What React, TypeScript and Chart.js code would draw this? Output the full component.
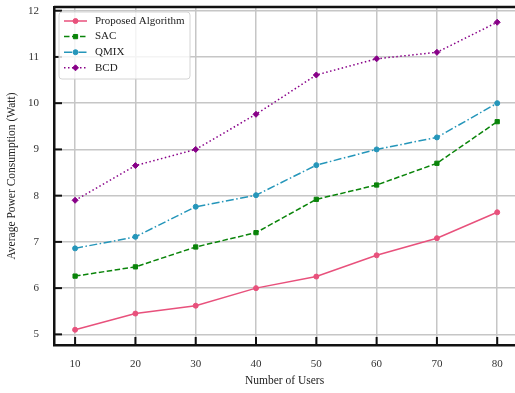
import React, { useEffect, useRef } from "react";
import { Chart, registerables } from "chart.js";

Chart.register(...registerables);

const users = [10, 20, 30, 40, 50, 60, 70, 80];
const proposed = [5.1, 5.45, 5.62, 6.0, 6.25, 6.71, 7.08, 7.64];
const sac = [6.26, 6.46, 6.89, 7.2, 7.92, 8.23, 8.7, 9.6];
const qmix = [6.86, 7.11, 7.76, 8.01, 8.66, 9.0, 9.26, 10.0];
const bcd = [7.9, 8.65, 9.0, 9.76, 10.61, 10.96, 11.1, 11.75];
const xTicks = [10, 20, 30, 40, 50, 60, 70, 80];
const yTicks = [5, 6, 7, 8, 9, 10, 11, 12];

const FONT = "'Liberation Serif', 'DejaVu Serif', serif";

type Series = { label: string; data: number[]; color: string; dash: number[]; point: string; radius: number };
const series: Series[] = [
  { label: "Proposed Algorithm", data: proposed, color: "#e8517c", dash: [], point: "circle", radius: 2.5 },
  { label: "SAC", data: sac, color: "#0a840a", dash: [5.5, 2.5], point: "rect", radius: 3 },
  { label: "QMIX", data: qmix, color: "#2596ba", dash: [8, 2.5, 1.5, 2.5], point: "circle", radius: 2.5 },
  { label: "BCD", data: bcd, color: "#880088", dash: [1.5, 2.5], point: "rectRot", radius: 3 },
];

function marker(ctx: CanvasRenderingContext2D, style: string, r: number, x: number, y: number) {
  ctx.beginPath();
  if (style === "circle") {
    ctx.arc(x, y, r, 0, Math.PI * 2);
  } else if (style === "rect") {
    const s = r * Math.SQRT1_2;
    ctx.rect(x - s, y - s, 2 * s, 2 * s);
  } else {
    ctx.moveTo(x, y - r);
    ctx.lineTo(x + r, y);
    ctx.lineTo(x, y + r);
    ctx.lineTo(x - r, y);
    ctx.closePath();
  }
  ctx.fill();
  ctx.stroke();
}

const framePlugin = {
  id: "frame",
  afterDatasetsDraw(chart: any) {
    const ctx = chart.ctx;
    const { left, right, top, bottom } = chart.chartArea;
    const xs = chart.scales.x;
    const ys = chart.scales.y;
    ctx.save();
    ctx.strokeStyle = "#111";
    ctx.lineWidth = 2.5;
    ctx.beginPath();
    ctx.moveTo(left, top);
    ctx.lineTo(right, top);
    ctx.stroke();
    ctx.lineWidth = 2;
    for (const v of yTicks) {
      const y = ys.getPixelForValue(v);
      ctx.beginPath();
      ctx.moveTo(left, y);
      ctx.lineTo(left + 8, y);
      ctx.stroke();
    }
    for (const v of xTicks) {
      const x = xs.getPixelForValue(v);
      ctx.beginPath();
      ctx.moveTo(x, bottom);
      ctx.lineTo(x, bottom - 8);
      ctx.stroke();
    }
    // legend
    const bx = 59, by = 12, bw = 131, bh = 67;
    ctx.beginPath();
    const r = 3;
    ctx.moveTo(bx + r, by);
    ctx.arcTo(bx + bw, by, bx + bw, by + bh, r);
    ctx.arcTo(bx + bw, by + bh, bx, by + bh, r);
    ctx.arcTo(bx, by + bh, bx, by, r);
    ctx.arcTo(bx, by, bx + bw, by, r);
    ctx.closePath();
    ctx.fillStyle = "rgba(255,255,255,0.8)";
    ctx.fill();
    ctx.strokeStyle = "#d4d4d4";
    ctx.lineWidth = 1;
    ctx.stroke();
    series.forEach((s, i) => {
      const y = 21 + i * 15.6;
      ctx.save();
      ctx.strokeStyle = s.color;
      ctx.lineWidth = 1.5;
      ctx.setLineDash(s.dash);
      ctx.beginPath();
      ctx.moveTo(64, y);
      ctx.lineTo(87, y);
      ctx.stroke();
      ctx.restore();
      ctx.save();
      ctx.fillStyle = s.color;
      ctx.strokeStyle = s.color;
      ctx.lineWidth = 1;
      marker(ctx, s.point, s.radius, 75.5, y);
      ctx.restore();
      ctx.fillStyle = "#222";
      ctx.font = `11px ${FONT}`;
      ctx.textBaseline = "middle";
      ctx.textAlign = "left";
      ctx.fillText(s.label, 95, y);
    });
    ctx.restore();
  },
};

export default function App() {
  const ref = useRef<HTMLCanvasElement | null>(null);
  useEffect(() => {
    document.body.style.margin = "0";
    const canvas = ref.current!;
    const chart = new Chart(canvas, {
      type: "line",
      data: {
        datasets: series.map((s) => ({
          label: s.label,
          data: users.map((u, i) => ({ x: u, y: s.data[i] })),
          borderColor: s.color,
          backgroundColor: s.color,
          borderWidth: 1.5,
          borderDash: s.dash,
          pointStyle: s.point as any,
          pointRadius: s.radius,
          pointHoverRadius: s.radius,
          pointBorderWidth: 1,
          tension: 0,
          fill: false,
        })),
      },
      options: {
        animation: false,
        responsive: true,
        maintainAspectRatio: false,
        layout: { autoPadding: false, padding: { top: 7, right: 0, left: 0, bottom: 0 } },
        plugins: { legend: { display: false }, tooltip: { enabled: false } },
        scales: {
          x: {
            type: "linear",
            min: 6.5,
            max: 82.95,
            afterBuildTicks: (sc: any) => {
              sc.ticks = xTicks.map((v) => ({ value: v }));
            },
            afterFit: (sc: any) => {
              sc.height = 48;
              sc.paddingLeft = 0;
              sc.paddingRight = 0;
            },
            grid: { color: "#c6c6c6", lineWidth: 1.5, drawTicks: false },
            border: { display: true, color: "#111", width: 2.5 },
            ticks: { color: "#333", font: { family: FONT, size: 11 }, padding: 13, autoSkip: false, maxRotation: 0 },
            title: { display: true, text: "Number of Users", color: "#222", font: { family: FONT, size: 11.5 }, padding: { bottom: 5, top: 0 } },
          },
          y: {
            type: "linear",
            min: 4.77,
            max: 12.08,
            afterBuildTicks: (sc: any) => {
              sc.ticks = yTicks.map((v) => ({ value: v }));
            },
            afterFit: (sc: any) => {
              sc.width = 54;
              sc.paddingTop = 0;
              sc.paddingBottom = 0;
            },
            grid: { color: "#c6c6c6", lineWidth: 1.5, drawTicks: false },
            border: { display: true, color: "#111", width: 2.5 },
            ticks: { color: "#333", font: { family: FONT, size: 11 }, padding: 15 },
            title: { display: true, text: "Average Power Consumption (Watt)", color: "#222", font: { family: FONT, size: 11.5 }, padding: { top: 5, bottom: 0 } },
          },
        },
      },
      plugins: [framePlugin],
    });
    return () => chart.destroy();
  }, []);
  return (
    <div style={{ width: 515, height: 393, position: "relative" }}>
      <canvas ref={ref} />
    </div>
  );
}
